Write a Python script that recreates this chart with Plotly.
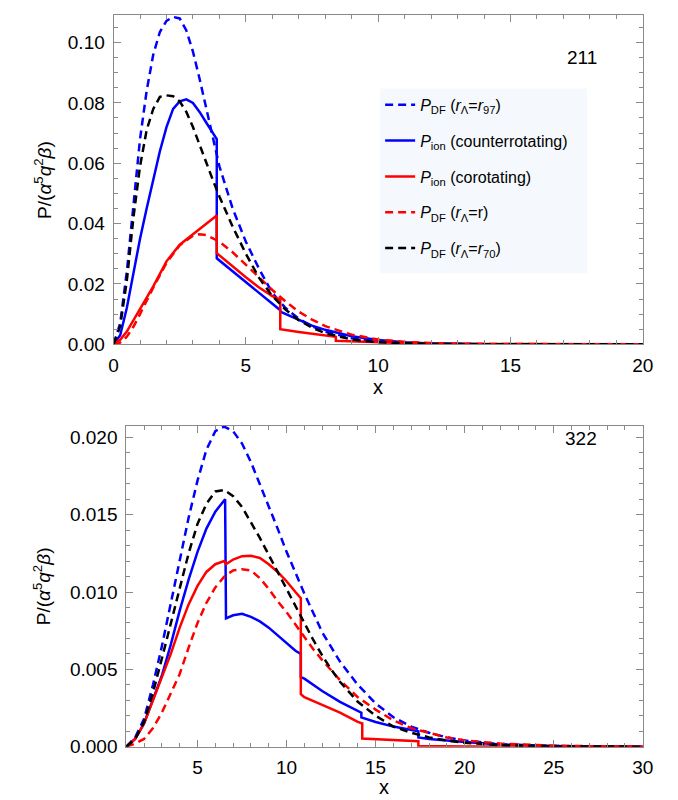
import plotly.graph_objects as go

# ---------------- data: panel 211 ----------------
x211_df97 = [0, 0.25, 0.5, 0.75, 1.0, 1.25, 1.5, 1.75, 2.0, 2.25, 2.5, 2.75, 3.0, 3.25, 3.5, 3.75, 4.0, 4.5, 5.0, 5.5, 6.0, 6.5, 7.0, 7.5, 8.0, 9.0, 10.0, 11.0, 12.0, 14.0, 16.0, 20.0]
y211_df97 = [0, 0.007, 0.024, 0.047, 0.068, 0.084, 0.096, 0.1035, 0.1072, 0.1085, 0.108, 0.104, 0.097, 0.088, 0.078, 0.068, 0.059, 0.045, 0.034, 0.025, 0.017, 0.012, 0.0085, 0.006, 0.0042, 0.002, 0.001, 0.0004, 0.0002, 0.00005, 0.00001, 0]

x211_ion_counter = [0, 0.25, 0.5, 0.75, 1.0, 1.25, 1.5, 1.75, 2.0, 2.25, 2.5, 2.75, 3.0, 3.25, 3.5, 3.75, 3.9, 3.9, 4.5, 5.0, 5.5, 6.0, 6.3, 6.3, 7.0, 7.5, 8.0, 8.5, 9.0, 10.0, 11.0, 12.0, 14.0, 20.0]
y211_ion_counter = [0, 0.003, 0.012, 0.024, 0.035, 0.045, 0.055, 0.064, 0.072, 0.078, 0.0805, 0.0812, 0.080, 0.077, 0.0735, 0.070, 0.068, 0.0285, 0.0242, 0.0206, 0.0170, 0.0134, 0.0113, 0.0108, 0.0080, 0.0062, 0.0048, 0.0037, 0.0027, 0.0014, 0.0007, 0.0003, 0.00006, 0]

x211_ion_co = [0, 0.25, 0.5, 0.75, 1.0, 1.25, 1.5, 2.0, 2.5, 3.0, 3.5, 3.9, 3.9, 4.5, 5.0, 5.5, 6.0, 6.3, 6.3, 7.0, 7.5, 8.0, 8.4, 8.4, 9.0, 10.0, 11.0, 12.0, 20.0]
y211_ion_co = [0, 0.0015, 0.0042, 0.0080, 0.0118, 0.0155, 0.0192, 0.0275, 0.0330, 0.0365, 0.0400, 0.0427, 0.0302, 0.0258, 0.0222, 0.0188, 0.0160, 0.0148, 0.0050, 0.0041, 0.0035, 0.0029, 0.0025, 0.0012, 0.0010, 0.0006, 0.0003, 0.0001, 0]

x211_df_r = [0, 0.25, 0.5, 0.75, 1.0, 1.5, 2.0, 2.5, 3.0, 3.25, 3.5, 4.0, 4.5, 5.0, 5.5, 6.0, 6.5, 7.0, 7.5, 8.0, 9.0, 10.0, 11.0, 12.0, 14.0, 20.0]
y211_df_r = [0, 0.0006, 0.0025, 0.0058, 0.0100, 0.0188, 0.0270, 0.0328, 0.0360, 0.0365, 0.0362, 0.0340, 0.0305, 0.0265, 0.0222, 0.0180, 0.0142, 0.0108, 0.0082, 0.0060, 0.0032, 0.0016, 0.0008, 0.0004, 0.0001, 0]

x211_df70 = [0, 0.25, 0.5, 0.75, 1.0, 1.25, 1.5, 1.75, 2.0, 2.25, 2.5, 2.75, 3.0, 3.25, 3.5, 3.75, 4.0, 4.5, 5.0, 5.5, 6.0, 6.5, 7.0, 7.5, 8.0, 9.0, 10.0, 11.0, 12.0, 14.0, 16.0, 20.0]
y211_df70 = [0, 0.006, 0.021, 0.042, 0.059, 0.071, 0.078, 0.082, 0.0825, 0.0822, 0.0805, 0.077, 0.072, 0.066, 0.060, 0.0545, 0.049, 0.039, 0.030, 0.022, 0.016, 0.0115, 0.008, 0.0055, 0.0037, 0.0016, 0.0007, 0.0003, 0.0001, 0.00002, 0, 0]

# ---------------- data: panel 322 ----------------
x322_df97 = [1, 1.5, 2, 2.5, 3, 3.5, 4, 4.5, 5, 5.5, 6, 6.5, 7, 7.5, 8, 8.5, 9, 9.5, 10, 10.5, 11, 12, 13, 14, 15, 16, 17, 18, 19, 20, 22, 25, 30]
y322_df97 = [0, 0.0006, 0.0018, 0.0040, 0.0065, 0.0092, 0.0120, 0.0148, 0.0172, 0.0192, 0.0204, 0.0207, 0.0204, 0.0196, 0.0184, 0.0170, 0.0156, 0.0141, 0.0126, 0.0112, 0.0099, 0.0074, 0.0055, 0.0040, 0.0028, 0.0019, 0.0013, 0.0009, 0.0006, 0.0004, 0.00015, 0.00004, 0]

x322_ion_counter = [1, 1.5, 2, 2.5, 3, 3.5, 4, 4.5, 5, 5.5, 6, 6.55, 6.6, 7, 7.5, 8, 8.5, 9, 9.5, 10, 10.5, 10.8, 10.8, 11, 12, 13, 14, 14.2, 14.2, 15, 16, 17, 17.4, 17.4, 18, 19, 20, 22, 25, 30]
y322_ion_counter = [0, 0.0005, 0.0015, 0.0030, 0.0046, 0.0066, 0.0088, 0.0108, 0.0126, 0.0141, 0.0152, 0.0160, 0.0083, 0.0085, 0.0086, 0.0084, 0.0081, 0.0077, 0.0072, 0.0067, 0.0062, 0.0060, 0.0045, 0.0044, 0.0036, 0.0029, 0.0023, 0.0022, 0.0019, 0.0016, 0.0013, 0.0011, 0.0010, 0.0006, 0.0005, 0.0004, 0.0003, 0.00015, 0.00005, 0]

x322_ion_co = [1, 1.5, 2, 2.5, 3, 3.5, 4, 4.5, 5, 5.5, 6, 6.5, 6.6, 7, 7.5, 8, 8.5, 9, 9.5, 10, 10.5, 10.8, 10.8, 11, 12, 13, 14, 14.25, 14.25, 15, 16, 17, 17.4, 17.4, 18, 20, 25, 30]
y322_ion_co = [0, 0.0005, 0.0015, 0.0030, 0.0044, 0.0060, 0.0077, 0.0092, 0.0104, 0.0113, 0.0118, 0.0120, 0.0118, 0.0121, 0.01232, 0.01235, 0.0122, 0.0118, 0.0113, 0.0107, 0.0100, 0.0096, 0.0034, 0.0032, 0.0027, 0.0022, 0.0016, 0.0015, 0.00053, 0.00048, 0.00042, 0.00037, 0.00036, 0.00005, 0.00004, 0.00002, 0, 0]

x322_df_r = [1, 1.5, 2, 2.5, 3, 3.5, 4, 4.5, 5, 5.5, 6, 6.5, 7, 7.5, 8, 8.5, 9, 9.5, 10, 10.5, 11, 11.5, 12, 13, 14, 15, 16, 17, 18, 19, 20, 22, 25, 30]
y322_df_r = [0, 0.0002, 0.0005, 0.0012, 0.0022, 0.0034, 0.0047, 0.0064, 0.0080, 0.0093, 0.0103, 0.0110, 0.0114, 0.01148, 0.0114, 0.0109, 0.0102, 0.0094, 0.0087, 0.0079, 0.0071, 0.0063, 0.0056, 0.0043, 0.0032, 0.0024, 0.0017, 0.0012, 0.0009, 0.0006, 0.0004, 0.0002, 0.00006, 0]

x322_df70 = [1, 1.5, 2, 2.5, 3, 3.5, 4, 4.5, 5, 5.5, 6, 6.5, 7, 7.5, 8, 8.5, 9, 9.5, 10, 10.5, 11, 11.5, 12, 12.5, 13, 14, 15, 16, 17, 18, 19, 20, 22, 25, 30]
y322_df70 = [0, 0.0005, 0.0016, 0.0035, 0.0057, 0.0080, 0.0103, 0.0125, 0.0144, 0.0157, 0.0165, 0.0166, 0.0162, 0.0155, 0.0145, 0.0135, 0.0124, 0.0113, 0.0102, 0.0091, 0.0080, 0.0069, 0.0059, 0.0050, 0.0042, 0.0029, 0.0020, 0.0013, 0.0009, 0.0006, 0.0004, 0.00025, 0.0001, 0.00002, 0]

# ---------------- legend / labels ----------------
legend_names = [
    "<i>P</i><sub>DF</sub> (<i>r</i><sub>Λ</sub>=<i>r</i><sub>97</sub>)",
    "<i>P</i><sub>ion</sub> (counterrotating)",
    "<i>P</i><sub>ion</sub> (corotating)",
    "<i>P</i><sub>DF</sub> (<i>r</i><sub>Λ</sub>=r)",
    "<i>P</i><sub>DF</sub> (<i>r</i><sub>Λ</sub>=<i>r</i><sub>70</sub>)",
]
colors = ["#0000FF", "#0000FF", "#FF0000", "#FF0000", "#000000"]
dashes = ["8px,5px", "solid", "solid", "8px,5px", "8px,5px"]

panel211 = [(x211_df97, y211_df97), (x211_ion_counter, y211_ion_counter), (x211_ion_co, y211_ion_co),
            (x211_df_r, y211_df_r), (x211_df70, y211_df70)]
panel322 = [(x322_df97, y322_df97), (x322_ion_counter, y322_ion_counter), (x322_ion_co, y322_ion_co),
            (x322_df_r, y322_df_r), (x322_df70, y322_df70)]

W, H = 678, 800
FONT = "Liberation Sans, Arial, sans-serif"

fig = go.Figure()
for i, (xs, ys) in enumerate(panel211):
    fig.add_trace(go.Scatter(x=xs, y=ys, mode="lines", name=legend_names[i],
                             line=dict(color=colors[i], width=2.5, dash=dashes[i]),
                             legendgroup=f"g{i}", xaxis="x", yaxis="y"))
for i, (xs, ys) in enumerate(panel322):
    fig.add_trace(go.Scatter(x=xs, y=ys, mode="lines", name=legend_names[i], showlegend=False,
                             line=dict(color=colors[i], width=2.5, dash=dashes[i]),
                             legendgroup=f"g{i}", xaxis="x2", yaxis="y2"))

frame = "#8a8a8a"
def ax(**kw):
    d = dict(showline=True, linecolor=frame, linewidth=1, mirror="allticks",
             ticks="inside", ticklen=7, tickcolor=frame, tickwidth=1,
             showgrid=False, zeroline=False, tickfont=dict(size=19, color="black", family=FONT),
             ticklabelstandoff=4)
    d.update(kw)
    return d

px = lambda v: v / W
py = lambda v: 1 - v / H

fig.update_layout(
    width=W, height=H, margin=dict(l=0, r=0, t=0, b=0),
    paper_bgcolor="white", plot_bgcolor="white",
    font=dict(family=FONT, size=16, color="black"),
    xaxis=ax(domain=[px(103), px(645)], range=[0, 20], anchor="y", tickvals=[0, 5, 10, 15, 20],
             minor=dict(dtick=1, tick0=0, ticks="inside", ticklen=4, tickcolor=frame)),
    yaxis=ax(domain=[py(341), py(7.5)], range=[0, 0.109], anchor="x", tickvals=[0, 0.02, 0.04, 0.06, 0.08, 0.10],
             tickformat=".2f", minor=dict(dtick=0.005, tick0=0, ticks="inside", ticklen=4, tickcolor=frame)),
    xaxis2=ax(domain=[px(116), px(645)], range=[1, 30], anchor="y2", tickvals=[5, 10, 15, 20, 25, 30],
              ticklabelstandoff=3,
              minor=dict(dtick=1, tick0=0, ticks="inside", ticklen=4, tickcolor=frame)),
    yaxis2=ax(domain=[py(749), py(423.6)], range=[0, 0.02075], anchor="x2",
              tickvals=[0, 0.005, 0.010, 0.015, 0.020], tickformat=".3f",
              minor=dict(dtick=0.001, tick0=0, ticks="inside", ticklen=4, tickcolor=frame)),
    legend=dict(x=px(376), y=py(81), xanchor="left", yanchor="top", bgcolor="rgba(0,0,0,0)",
                borderwidth=0, font=dict(size=16, family=FONT), tracegroupgap=12, itemwidth=30),
    showlegend=True,
)

fig.add_shape(type="rect", xref="paper", yref="paper", x0=px(376), x1=px(588), y0=py(269), y1=py(81.7),
              fillcolor="#F5F9FD", line=dict(width=0), layer="below")

ytitle = "P/(<i>α</i><sup>5</sup><i>q</i><sup>2</sup><i>β</i>)"
for yc in (174, 586):
    fig.add_annotation(text=ytitle, x=px(30), y=py(yc), xref="paper", yref="paper", showarrow=False,
                       textangle=-90, xanchor="center", yanchor="middle", font=dict(size=19))
fig.add_annotation(text="x", x=px(374), y=py(384), xref="paper", yref="paper", showarrow=False,
                   xanchor="center", yanchor="middle", height=16, font=dict(size=20))
fig.add_annotation(text="x", x=px(380), y=py(790), xref="paper", yref="paper", showarrow=False,
                   xanchor="center", yanchor="middle", height=16, font=dict(size=20))
fig.add_annotation(text="211", x=px(600), y=py(50), xref="paper", yref="paper", showarrow=False,
                   xanchor="right", yanchor="middle", font=dict(size=19))
fig.add_annotation(text="322", x=px(600), y=py(437), xref="paper", yref="paper", showarrow=False,
                   xanchor="right", yanchor="middle", font=dict(size=19))

fig.write_html("out.html")
